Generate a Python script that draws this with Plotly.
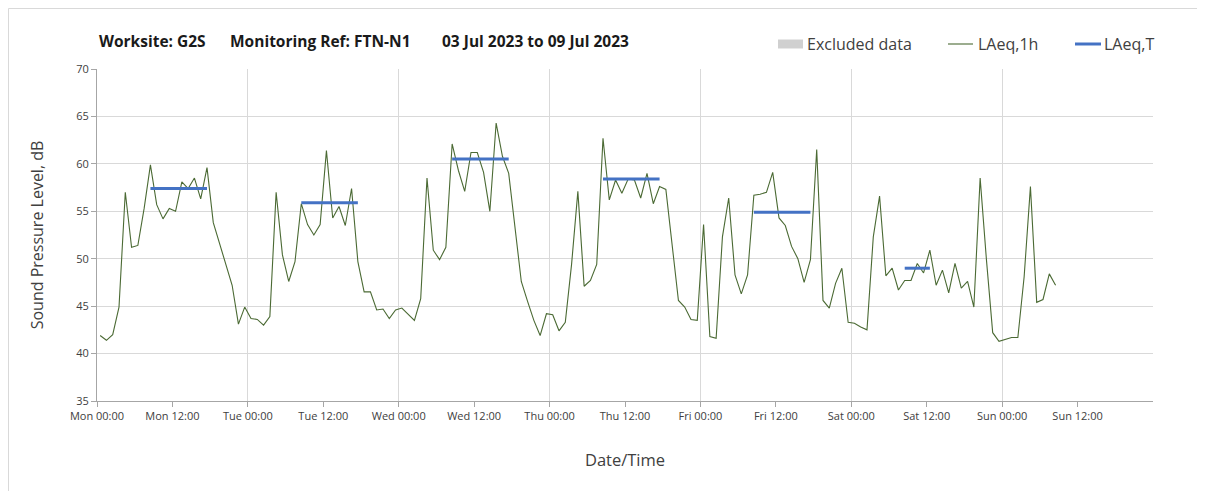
import pandas as pd
import plotly.graph_objects as go

# ---- data ----
laeq_1h = [
    41.9, 41.4, 42.0, 44.9, 57.0, 51.2, 51.4, 55.3, 59.9, 55.7, 54.2, 55.3,
    55.0, 58.1, 57.4, 58.5, 56.3, 59.6, 53.8, 51.6, 49.4, 47.2, 43.1, 44.9,
    43.7, 43.6, 43.0, 43.9, 57.0, 50.4, 47.6, 49.7, 55.8, 53.6, 52.5, 53.6,
    61.4, 54.3, 55.5, 53.5, 57.4, 49.7, 46.5, 46.5, 44.6, 44.7, 43.7, 44.6,
    44.8, 44.2, 43.5, 45.8, 58.5, 50.9, 49.9, 51.2, 62.1, 59.3, 57.1, 61.2,
    61.2, 59.1, 55.0, 64.3, 60.8, 59.0, 53.2, 47.6, 45.5, 43.5, 41.9, 44.2,
    44.1, 42.4, 43.3, 49.4, 57.1, 47.1, 47.7, 49.4, 62.7, 56.2, 58.3, 56.9,
    58.4, 58.3, 56.4, 59.0, 55.8, 57.6, 57.3, 51.4, 45.6, 44.9, 43.6, 43.5,
    53.6, 41.8, 41.6, 52.3, 56.4, 48.3, 46.3, 48.3, 56.7, 56.8, 57.0, 59.1,
    54.3, 53.5, 51.3, 50.0, 47.5, 49.9, 61.5, 45.6, 44.8, 47.4, 49.0, 43.3,
    43.2, 42.8, 42.5, 52.3, 56.6, 48.2, 49.0, 46.7, 47.7, 47.7, 49.5, 48.5,
    50.9, 47.2, 48.8, 46.4, 49.5, 46.9, 47.6, 44.9, 58.5, 49.9, 42.2, 41.3,
    41.5, 41.7, 41.7, 48.1, 57.6, 45.4, 45.7, 48.4, 47.2,
]
times_1h = pd.date_range("2023-07-03 00:30", periods=len(laeq_1h), freq="h")

laeq_t_start = ["2023-07-03 08:30", "2023-07-04 08:30", "2023-07-05 08:30",
                "2023-07-06 08:30", "2023-07-07 08:30", "2023-07-08 08:30"]
laeq_t_end = ["2023-07-03 17:30", "2023-07-04 17:30", "2023-07-05 17:30",
              "2023-07-06 17:30", "2023-07-07 17:30", "2023-07-08 12:30"]
laeq_t = [57.4, 55.9, 60.5, 58.4, 54.9, 49.0]

tick_vals = pd.date_range("2023-07-03 00:00", periods=14, freq="12h")
tick_text = ["Mon 00:00", "Mon 12:00", "Tue 00:00", "Tue 12:00", "Wed 00:00",
             "Wed 12:00", "Thu 00:00", "Thu 12:00", "Fri 00:00", "Fri 12:00",
             "Sat 00:00", "Sat 12:00", "Sun 00:00", "Sun 12:00"]
x_range = ["2023-07-03 00:00", "2023-07-10 00:00"]

title_parts = ["Worksite: G2S", "Monitoring Ref: FTN-N1", "03 Jul 2023 to 09 Jul 2023"]
legend_labels = ["Excluded data", "LAeq,1h", "LAeq,T"]

GREEN = "#4b6a34"
BLUE = "#4472c4"
GREY_TXT = "#404040"
FONT = "Open Sans"

# ---- layout geometry (figure px; page has 8px body offset) ----
OFF = 8
W, H = 1205, 491
L, T = 97 - OFF, 69 - OFF
PR, PB = 1153 - OFF, 401 - OFF
R, B = W - PR, H - PB
PW, PH = PR - L, PB - T

def px(xp):  # page x -> paper
    return (xp - OFF - L) / PW

def py(yp):  # page y -> paper
    return (PB - (yp - OFF)) / PH

fig = go.Figure()

tx, ty = [], []
for s, e, v in zip(laeq_t_start, laeq_t_end, laeq_t):
    tx += [s, e, None]
    ty += [v, v, None]

fig.add_trace(go.Scatter(x=list(times_1h), y=laeq_1h, mode="lines",
                         line=dict(color=GREEN, width=1.1), name="LAeq,1h",
                         showlegend=False))
fig.add_trace(go.Scatter(x=tx, y=ty, mode="lines",
                         line=dict(color=BLUE, width=3), name="LAeq,T",
                         showlegend=False))
fig.add_trace(go.Scatter(x=x_range, y=[None, None], xaxis="x2", showlegend=False,
                         hoverinfo="skip"))

fig.update_layout(
    width=W, height=H,
    margin=dict(l=L, r=R, t=T, b=B, autoexpand=False),
    paper_bgcolor="white", plot_bgcolor="white",
    font=dict(family=FONT, color=GREY_TXT),
    xaxis=dict(type="date", range=x_range, tickvals=list(tick_vals), ticktext=tick_text,
               showgrid=False, showline=True, linecolor="#a6a6a6", linewidth=1,
               ticks="outside", ticklen=5, tickcolor="#a6a6a6",
               tickfont=dict(size=11, color="#404040"), automargin=False,
               title=dict(text="Date/Time", font=dict(size=16.5, color="#404040"), standoff=32),
               zeroline=False),
    xaxis2=dict(type="date", range=x_range, overlaying="x", dtick=86400000,
                tick0="2023-07-03", showgrid=True, gridcolor="#d9d9d9", gridwidth=1,
                showticklabels=False, ticks="", showline=False, zeroline=False,
                automargin=False),
    yaxis=dict(range=[35, 70], dtick=5, showgrid=True, gridcolor="#d9d9d9", gridwidth=1,
               showline=True, linecolor="#a6a6a6", linewidth=1,
               ticks="outside", ticklen=5, tickcolor="#a6a6a6",
               tickfont=dict(size=11, color="#404040"), automargin=False,
               title=dict(text="Sound Pressure Level, dB", font=dict(size=16, color="#404040"),
                          standoff=28),
               zeroline=False),
    showlegend=False,
)

# title pieces
for xx, txt in zip([97, 228, 440], title_parts):
    fig.add_annotation(x=px(xx), y=py(41), xref="paper", yref="paper", text="<b>" + txt + "</b>",
                       showarrow=False, xanchor="left", yanchor="middle",
                       font=dict(size=15.5, color="#1a1a1a", family=FONT))

# chart-area border (light grey frame)
fig.add_shape(type="rect", xref="paper", yref="paper",
              x0=px(8.5), x1=px(1220), y0=py(510), y1=py(8.5),
              line=dict(color="#d9d9d9", width=1), fillcolor="rgba(0,0,0,0)", layer="below")

# manual legend
leg_y = py(44)
fig.add_shape(type="rect", xref="paper", yref="paper", x0=px(778), x1=px(803),
              y0=py(48.5), y1=py(39.5), line=dict(width=0), fillcolor="#d0d0d0")
fig.add_shape(type="line", xref="paper", yref="paper", x0=px(948), x1=px(973),
              y0=leg_y, y1=leg_y, line=dict(color=GREEN, width=1.1))
fig.add_shape(type="line", xref="paper", yref="paper", x0=px(1075), x1=px(1101),
              y0=leg_y, y1=leg_y, line=dict(color=BLUE, width=3))
for xx, txt in zip([805, 976, 1102], legend_labels):
    fig.add_annotation(x=px(xx), y=leg_y, xref="paper", yref="paper", text=txt,
                       showarrow=False, xanchor="left", yanchor="middle",
                       font=dict(size=16, color="#404040", family=FONT))

fig.write_html("out.html")
